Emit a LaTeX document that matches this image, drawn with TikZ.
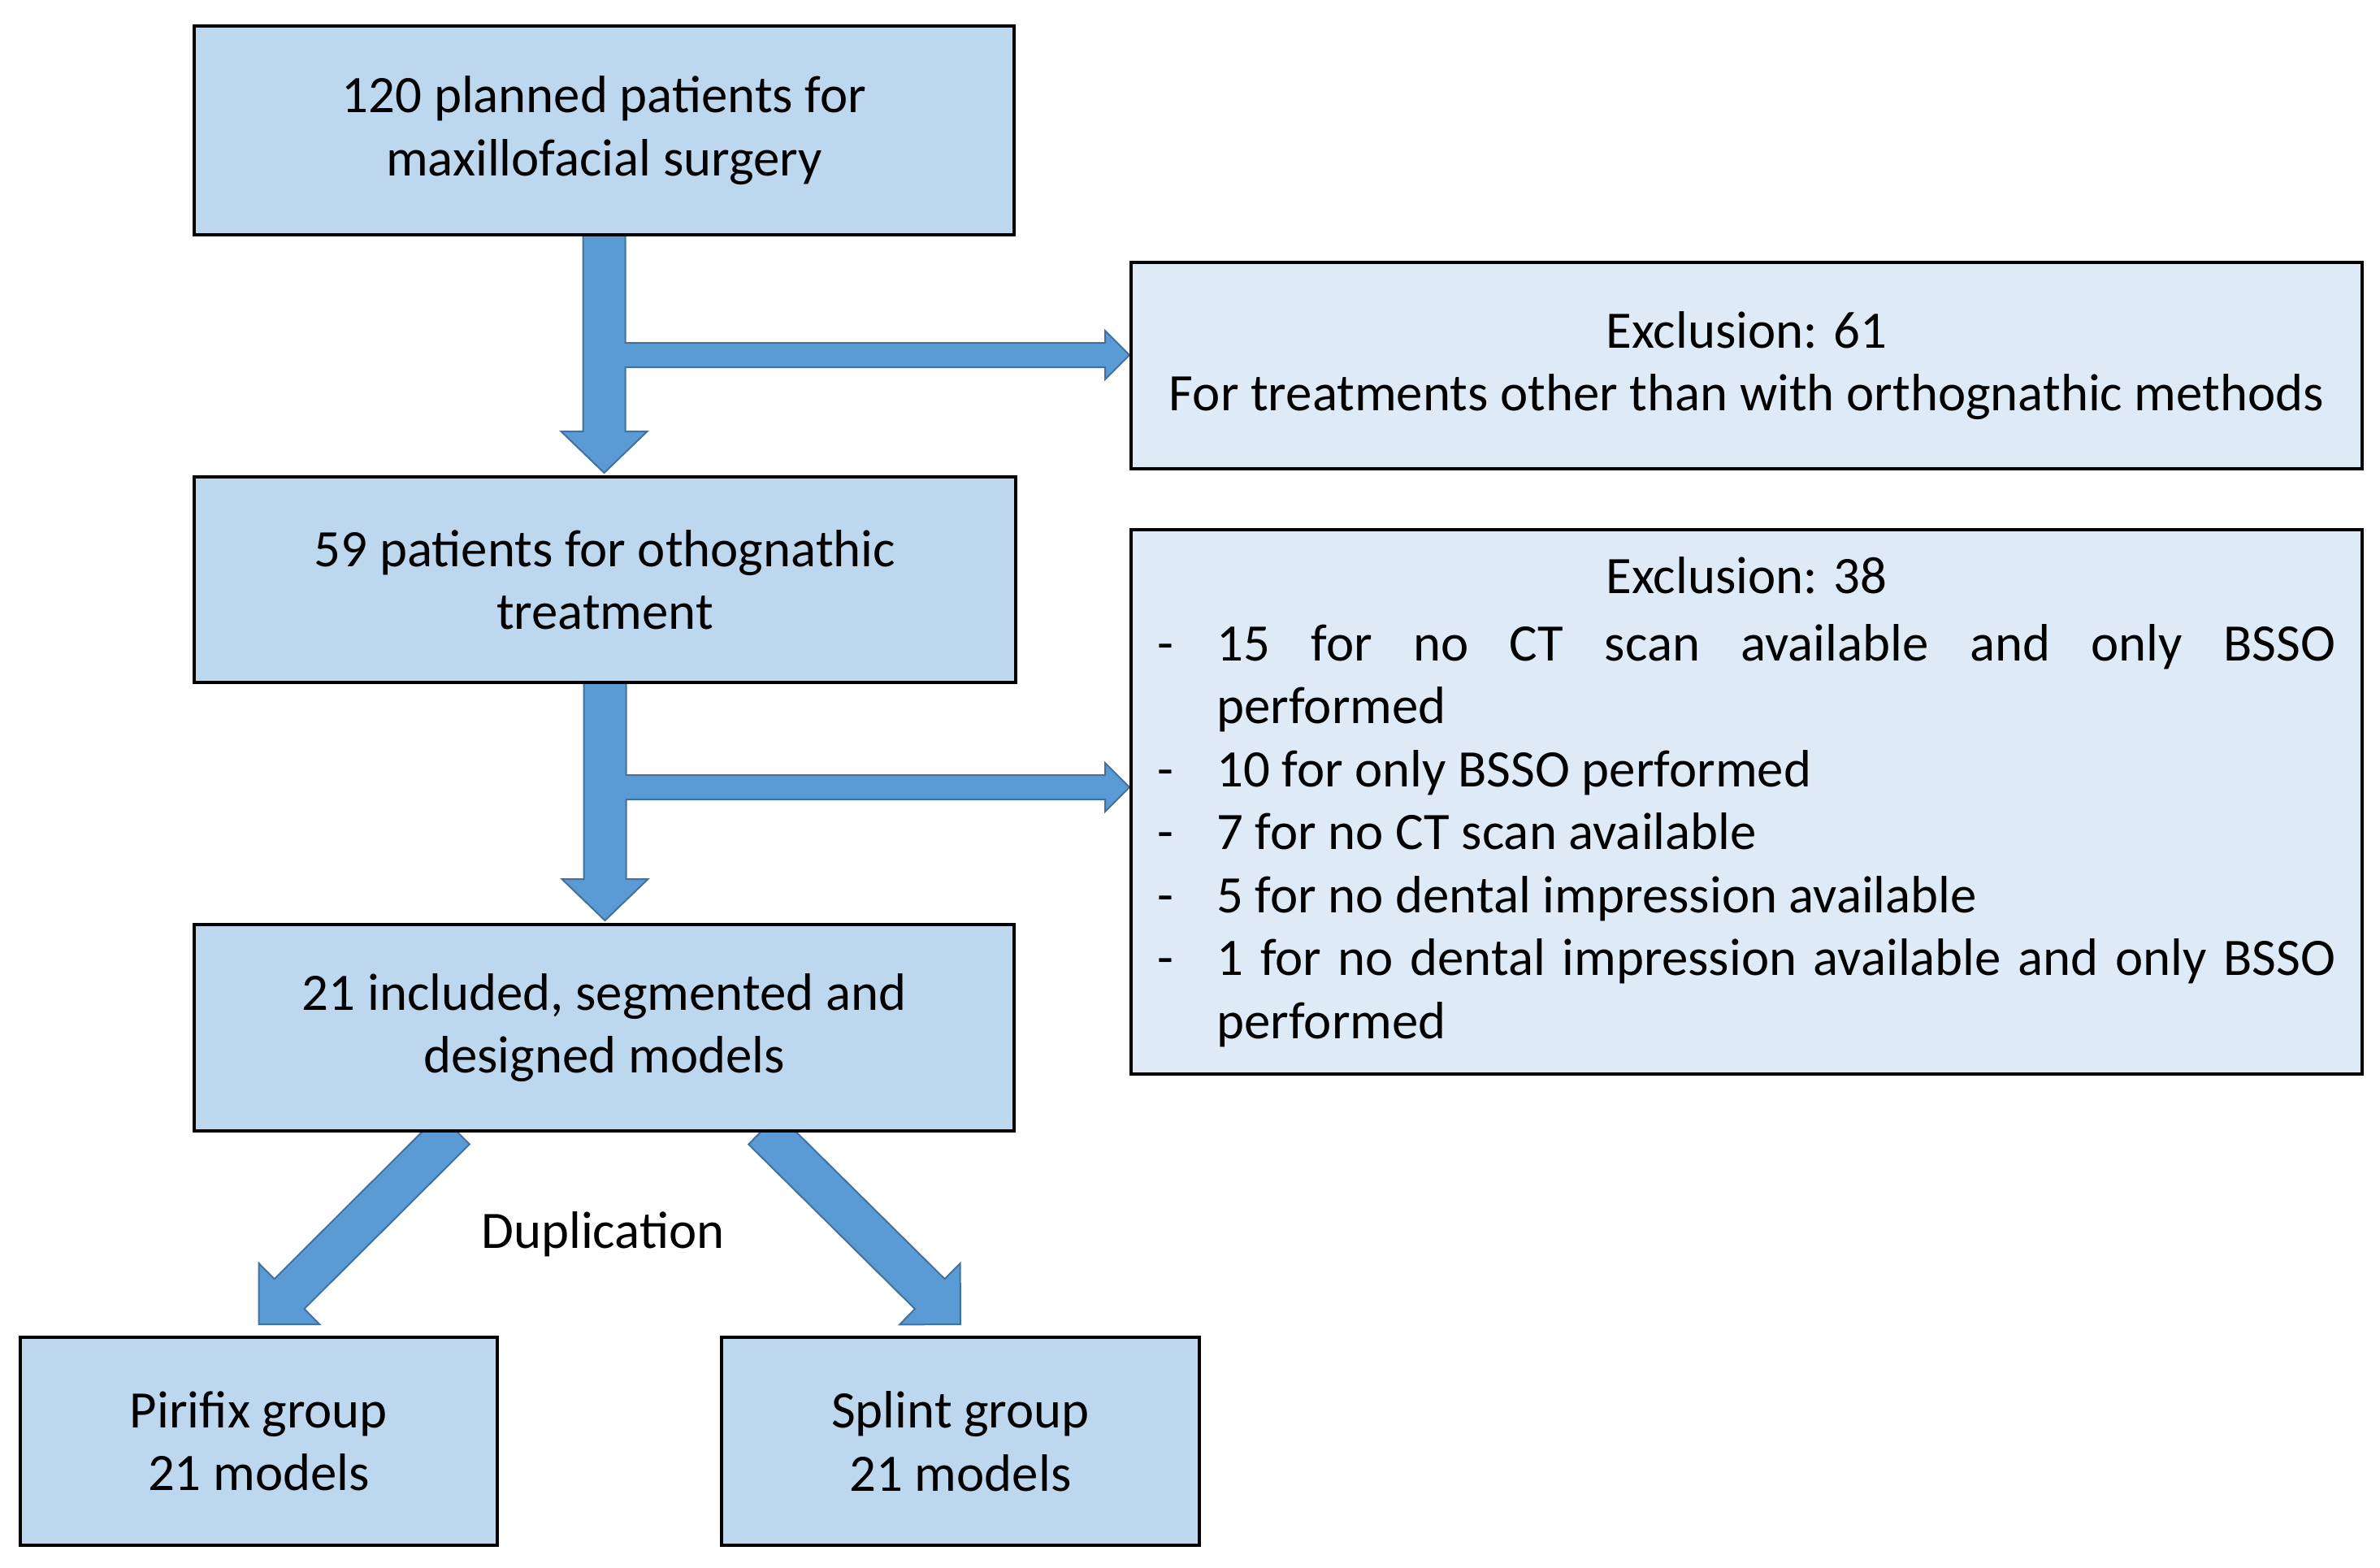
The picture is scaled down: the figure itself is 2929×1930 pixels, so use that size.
\documentclass[tikz,border=0pt]{standalone}
\usepackage{fontspec}
\setmainfont{Carlito}
\usetikzlibrary{calc,backgrounds}
\definecolor{boxblue}{HTML}{BDD7EE}
\definecolor{exblue}{HTML}{DEEBF7}
\definecolor{arrfill}{HTML}{5B9BD5}
\definecolor{arrline}{HTML}{41719C}
\tikzset{
  txt/.style={font=\fontsize{64.8}{77.5}\selectfont, text=black},
  mainbox/.style={txt, draw=black, line width=4pt, fill=boxblue, inner sep=0pt, align=center},
  exbox/.style={txt, draw=black, line width=4pt, fill=exblue, inner sep=0pt},
  bigarrow/.style={fill=arrfill, draw=arrline, line width=2pt, line join=miter}
}
% block arrow from #1 (start) to #2 (tip)
\newcommand\blkarrow[2]{%
  \path coordinate (baS) at (#1) coordinate (baT) at (#2);
  \coordinate (baH) at ($(baT)!53pt!(baS)$);
  \draw[bigarrow] ($(baS)!26pt!90:(baT)$) -- ($(baH)!26pt!90:(baT)$) -- ($(baH)!53pt!90:(baT)$) -- (baT)
    -- ($(baH)!53pt!-90:(baT)$) -- ($(baH)!26pt!-90:(baT)$) -- ($(baS)!26pt!-90:(baT)$) -- cycle;}
% T-shaped arrow: #1 top, #2 bottom tip, #3 side tip
\newcommand\tarrow[3]{%
  \draw[bigarrow] ($(#1)+(-26,0)$) -- ($(#1)+(26,0)$) -- ($(#1 |- #3)+(26,-15)$) -- ($(#3)+(-30,-15)$)
    -- ($(#3)+(-30,-30)$) -- (#3) -- ($(#3)+(-30,30)$) -- ($(#3)+(-30,15)$) -- ($(#1 |- #3)+(26,15)$)
    -- ($(#2)+(26,-51)$) -- ($(#2)+(53,-51)$) -- (#2) -- ($(#2)+(-53,-51)$) -- ($(#2)+(-26,-51)$) -- cycle;}
\begin{document}
\begin{tikzpicture}[x=1pt,y=-1pt]
\useasboundingbox (0,0) rectangle (2929,1930);

\node[mainbox, minimum width=1009pt, minimum height=257pt] (b1) at (743.5,160.5)
  {120 planned patients for\\maxillofacial surgery};
\node[mainbox, minimum width=1011pt, minimum height=253pt] (b2) at (744.5,713.5)
  {59 patients for othognathic\\treatment};
\node[mainbox, minimum width=1009pt, minimum height=254pt] (b3) at (743.5,1265)
  {21 included, segmented and\\designed models};
\node[mainbox, minimum width=587pt, minimum height=256pt] (p) at (318.5,1774)
  {Pirifix group\\21 models};
\node[mainbox, minimum width=588pt, minimum height=256pt] (s) at (1182,1774)
  {Splint group\\21 models};

\node[exbox, align=center, minimum width=1515pt, minimum height=254pt] (e1) at (2149.5,450)
  {Exclusion: 61\\For treatments other than with orthognathic methods};

\node[exbox, align=justify, text width=1450pt, minimum width=1515pt, minimum height=670pt] (e2) at (2149.5,987)
  {\hyphenpenalty=10000 \exhyphenpenalty=10000 \parindent=0pt
   \vspace*{5pt}{\centering Exclusion: 38\par}
   \hangindent=73pt \hangafter=1 \noindent\makebox[73pt][l]{-}15 for no CT scan available and only BSSO\linebreak performed\par
   \hangindent=73pt \hangafter=1 \noindent\makebox[73pt][l]{-}10 for only BSSO performed\par
   \hangindent=73pt \hangafter=1 \noindent\makebox[73pt][l]{-}7 for no CT scan available\par
   \hangindent=73pt \hangafter=1 \noindent\makebox[73pt][l]{-}5 for no dental impression available\par
   \hangindent=73pt \hangafter=1 \noindent\makebox[73pt][l]{-}1 for no dental impression available and only BSSO\linebreak performed\par};

\node[txt, inner sep=0pt] (dup) at (742,1519) {Duplication};

\coordinate (t1a) at ($(b1.south)+(0,-4)$);
\coordinate (t1b) at ($(b1.south |- b2.north)+(0,-3)$);
\coordinate (t1c) at ($(e1.west)+(0,-13)$);
\coordinate (t2a) at ($(b2.south)+(0,-4)$);
\coordinate (t2b) at ($(b2.south |- b3.north)+(0,-3)$);
\coordinate (t2c) at ($(e2.west)+(0,-18)$);

\begin{scope}[on background layer]
  \tarrow{t1a}{t1b}{t1c}
  \tarrow{t2a}{t2b}{t2c}
  \blkarrow{$(b3.south)+(-184,-4)$}{$(p.north)+(0,-14)$}
  \blkarrow{$(b3.south)+(196,-4)$}{$(s.north)+(0,-14)$}
\end{scope}
\end{tikzpicture}
\end{document}
